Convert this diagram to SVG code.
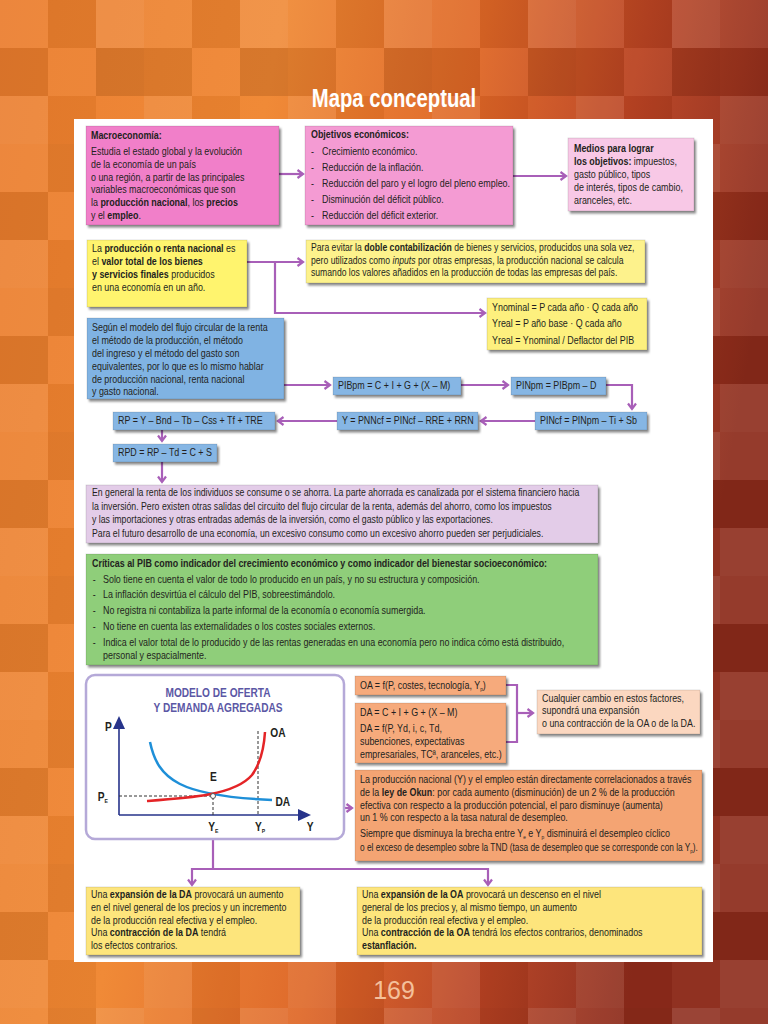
<svg xmlns="http://www.w3.org/2000/svg" width="768" height="1024" viewBox="0 0 768 1024">
<defs>
<linearGradient id="bg" x1="0" y1="0" x2="1" y2="0.25">
<stop offset="0" stop-color="#ea7c2c"/>
<stop offset="0.35" stop-color="#ef8631"/>
<stop offset="0.6" stop-color="#de6625"/>
<stop offset="0.8" stop-color="#b94322"/>
<stop offset="1" stop-color="#8c2a1a"/>
</linearGradient>
<pattern id="mosaic" width="144" height="144" patternUnits="userSpaceOnUse">
<rect x="0" y="0" width="48" height="48" fill="#fff" fill-opacity="0.08"/>
<rect x="48" y="0" width="48" height="48" fill="#000" fill-opacity="0.06"/>
<rect x="96" y="0" width="48" height="48" fill="#fff" fill-opacity="0.12"/>
<rect x="0" y="48" width="48" height="48" fill="#000" fill-opacity="0.08"/>
<rect x="48" y="48" width="48" height="48" fill="#fff" fill-opacity="0.05"/>
<rect x="96" y="48" width="48" height="48" fill="#000" fill-opacity="0.1"/>
<rect x="0" y="96" width="48" height="48" fill="#fff" fill-opacity="0.1"/>
<rect x="48" y="96" width="48" height="48" fill="#000" fill-opacity="0.04"/>
<rect x="96" y="96" width="48" height="48" fill="#fff" fill-opacity="0.03"/>
</pattern>
<filter id="sh" x="-5%" y="-10%" width="115%" height="140%">
<feDropShadow dx="2" dy="2.5" stdDeviation="1.2" flood-color="#000" flood-opacity="0.45"/>
</filter>
<marker id="ah" markerWidth="10" markerHeight="10" refX="7" refY="5" orient="auto" markerUnits="userSpaceOnUse">
<path d="M1.5,1 L7,5 L1.5,9" fill="none" stroke="#a85fb8" stroke-width="2.2"/>
</marker>
<style>
.t{font-family:"Liberation Sans",Arial,sans-serif;font-size:11px;fill:#231f20}
.b{font-weight:bold}
.box{stroke:#000;stroke-opacity:0.15;stroke-width:0.8;filter:url(#sh)}
.con{fill:none;stroke:#a85fb8;stroke-width:2.2}
.ax{fill:none;stroke:#27348b;stroke-width:1.6}
.lab{font-family:"Liberation Sans",Arial,sans-serif;font-size:12px;font-weight:bold;fill:#231f20}
</style>
</defs>

<rect x="0" y="0" width="768" height="1024" fill="url(#bg)"/>
<rect x="0" y="0" width="768" height="1024" fill="url(#mosaic)"/>
<rect x="74" y="119" width="639" height="843" fill="#ffffff"/>

<text transform="translate(394,0) scale(0.78,1)" x="0" y="107" text-anchor="middle" font-family="Liberation Sans, Arial, sans-serif" font-size="26" font-weight="bold" fill="#ffffff">Mapa conceptual</text>
<text x="394" y="999" text-anchor="middle" font-family="Liberation Sans, Arial, sans-serif" font-size="25" fill="#f4c09b">169</text>

<g id="connectors">
<path class="con" d="M279,174 H303" marker-end="url(#ah)"/>
<path class="con" d="M513,176 H566" marker-end="url(#ah)"/>
<path class="con" d="M247,262 H303" marker-end="url(#ah)"/>
<path class="con" d="M275,262 V313 H485" marker-end="url(#ah)"/>
<path class="con" d="M284,385 H330" marker-end="url(#ah)"/>
<path class="con" d="M461,385 H508" marker-end="url(#ah)"/>
<path class="con" d="M606,385 H632 V409" marker-end="url(#ah)"/>
<path class="con" d="M535,421 H481" marker-end="url(#ah)"/>
<path class="con" d="M337,421 H278" marker-end="url(#ah)"/>
<path class="con" d="M162,430 V441" marker-end="url(#ah)"/>
<path class="con" d="M162,462 V482" marker-end="url(#ah)"/>
<path class="con" d="M344,808 H352" marker-end="url(#ah)"/>
<path class="con" d="M506,685 H517 V742 H506"/>
<path class="con" d="M517,713 H533" marker-end="url(#ah)"/>
<path class="con" d="M213,839 V869"/>
<path class="con" d="M192,869 H488"/>
<path class="con" d="M192,868 V885" marker-end="url(#ah)"/>
<path class="con" d="M488,868 V885" marker-end="url(#ah)"/>
</g>

<g id="n-macro">
<rect class="box" x="86" y="126" width="193" height="99" fill="#f17fc9"/>
<g transform="translate(91,0) scale(0.81,1)" class="t">
<text x="0" y="139.5" class="t b">Macroeconomía:</text>
<text x="0" y="155.5" class="t">Estudia el estado global y la evolución</text>
<text x="0" y="168" class="t">de la economía de un país</text>
<text x="0" y="180.7" class="t">o una región, a partir de las principales</text>
<text x="0" y="193.3" class="t">variables macroeconómicas que son</text>
<text x="0" y="206" class="t">la <tspan class="b">producción nacional</tspan>, los <tspan class="b">precios</tspan></text>
<text x="0" y="218.6" class="t">y el <tspan class="b">empleo</tspan>.</text>
</g>
</g>

<g id="n-objetivos">
<rect class="box" x="305" y="126" width="208" height="99" fill="#f49bd3"/>
<g transform="translate(311,0) scale(0.81,1)">
<text x="0" y="138" class="t b">Objetivos económicos:</text>
<text x="0" y="155" class="t">-</text><text x="0" y="171" class="t">-</text><text x="0" y="187" class="t">-</text><text x="0" y="203" class="t">-</text><text x="0" y="219" class="t">-</text>
</g>
<g transform="translate(322,0) scale(0.81,1)">
<text x="0" y="155" class="t">Crecimiento económico.</text>
<text x="0" y="171" class="t">Reducción de la inflación.</text>
<text x="0" y="187" class="t">Reducción del paro y el logro del pleno empleo.</text>
<text x="0" y="203" class="t">Disminución del déficit público.</text>
<text x="0" y="219" class="t">Reducción del déficit exterior.</text>
</g>
</g>

<g id="n-medios">
<rect class="box" x="568" y="138" width="126" height="73" fill="#f8c8e6"/>
<g transform="translate(574,0) scale(0.81,1)">
<text x="0" y="152" class="t b">Medios para lograr</text>
<text x="0" y="165" class="t"><tspan class="b">los objetivos:</tspan> impuestos,</text>
<text x="0" y="178" class="t">gasto público, tipos</text>
<text x="0" y="191" class="t">de interés, tipos de cambio,</text>
<text x="0" y="204" class="t">aranceles, etc.</text>
</g>
</g>

<g id="n-produccion">
<rect class="box" x="87" y="240" width="160" height="67" fill="#fff46e"/>
<g transform="translate(92,0) scale(0.81,1)">
<text x="0" y="252.5" class="t">La <tspan class="b">producción o renta nacional</tspan> es</text>
<text x="0" y="265.5" class="t">el <tspan class="b">valor total de los bienes</tspan></text>
<text x="0" y="278.5" class="t"><tspan class="b">y servicios finales</tspan> producidos</text>
<text x="0" y="291.5" class="t">en una economía en un año.</text>
</g>
</g>

<g id="n-doble">
<rect class="box" x="306" y="240" width="339" height="43" fill="#fdf28c"/>
<g transform="translate(311,0) scale(0.785,1)">
<text x="0" y="251.5" class="t">Para evitar la <tspan class="b">doble contabilización</tspan> de bienes y servicios, producidos una sola vez,</text>
<text x="0" y="264" class="t">pero utilizados como <tspan font-style="italic">inputs</tspan> por otras empresas, la producción nacional se calcula</text>
<text x="0" y="276.5" class="t">sumando los valores añadidos en la producción de todas las empresas del país.</text>
</g>
</g>

<g id="n-ynominal">
<rect class="box" x="487" y="298" width="160" height="52" fill="#fdf07e"/>
<g transform="translate(492,0) scale(0.81,1)">
<text x="0" y="311.5" class="t">Ynominal = P cada año · Q cada año</text>
<text x="0" y="327.5" class="t">Yreal = P año base · Q cada año</text>
<text x="0" y="344" class="t">Yreal = Ynominal / Deflactor del PIB</text>
</g>
</g>

<g id="n-flujo">
<rect class="box" x="87" y="318" width="197" height="81" fill="#80b3e3"/>
<g transform="translate(92,0) scale(0.81,1)">
<text x="0" y="331" class="t">Según el modelo del flujo circular de la renta</text>
<text x="0" y="344" class="t">el método de la producción, el método</text>
<text x="0" y="357" class="t">del ingreso y el método del gasto son</text>
<text x="0" y="370" class="t">equivalentes, por lo que es lo mismo hablar</text>
<text x="0" y="383" class="t">de producción nacional, renta nacional</text>
<text x="0" y="395.5" class="t">y gasto nacional.</text>
</g>
</g>

<g id="n-pibpm">
<rect class="box" x="333" y="377" width="128" height="18" fill="#86b6e4"/>
<text transform="translate(338,0) scale(0.81,1)" x="0" y="389.5" class="t">PIBpm = C + I + G + (X – M)</text>
</g>
<g id="n-pinpm">
<rect class="box" x="511" y="377" width="95" height="18" fill="#86b6e4"/>
<text transform="translate(516,0) scale(0.81,1)" x="0" y="389.5" class="t">PINpm = PIBpm – D</text>
</g>
<g id="n-pincf">
<rect class="box" x="535" y="412" width="112" height="18" fill="#86b6e4"/>
<text transform="translate(540,0) scale(0.81,1)" x="0" y="424.5" class="t">PINcf = PINpm – Ti + Sb</text>
</g>
<g id="n-pnncf">
<rect class="box" x="337" y="412" width="141" height="18" fill="#86b6e4"/>
<text transform="translate(342,0) scale(0.81,1)" x="0" y="424.5" class="t">Y = PNNcf = PINcf – RRE + RRN</text>
</g>
<g id="n-rp">
<rect class="box" x="113" y="412" width="162" height="18" fill="#86b6e4"/>
<text transform="translate(118,0) scale(0.81,1)" x="0" y="424.5" class="t">RP = Y – Bnd – Tb – Css + Tf + TRE</text>
</g>
<g id="n-rpd">
<rect class="box" x="113" y="444" width="104" height="18" fill="#86b6e4"/>
<text transform="translate(118,0) scale(0.81,1)" x="0" y="456.5" class="t">RPD = RP – Td = C + S</text>
</g>

<g id="n-ahorro">
<rect class="box" x="86" y="485" width="512" height="58" fill="#e3cce8"/>
<g transform="translate(92,0) scale(0.795,1)">
<text x="0" y="496.5" class="t">En general la renta de los individuos se consume o se ahorra. La parte ahorrada es canalizada por el sistema financiero hacia</text>
<text x="0" y="510" class="t">la inversión. Pero existen otras salidas del circuito del flujo circular de la renta, además del ahorro, como los impuestos</text>
<text x="0" y="523" class="t">y las importaciones y otras entradas además de la inversión, como el gasto público y las exportaciones.</text>
<text x="0" y="537.5" class="t">Para el futuro desarrollo de una economía, un excesivo consumo como un excesivo ahorro pueden ser perjudiciales.</text>
</g>
</g>

<g id="n-criticas">
<rect class="box" x="86" y="554" width="512" height="111" fill="#8fce7a"/>
<g transform="translate(92,0) scale(0.81,1)">
<text x="0" y="567" class="t b">Críticas al PIB como indicador del crecimiento económico y como indicador del bienestar socioeconómico:</text>
<text x="1" y="583" class="t">-</text><text x="1" y="598.5" class="t">-</text><text x="1" y="614.5" class="t">-</text><text x="1" y="630" class="t">-</text><text x="1" y="646" class="t">-</text>
</g>
<g transform="translate(103,0) scale(0.81,1)">
<text x="0" y="583" class="t">Solo tiene en cuenta el valor de todo lo producido en un país, y no su estructura y composición.</text>
<text x="0" y="598.5" class="t">La inflación desvirtúa el cálculo del PIB, sobreestimándolo.</text>
<text x="0" y="614.5" class="t">No registra ni contabiliza la parte informal de la economía o economía sumergida.</text>
<text x="0" y="630" class="t">No tiene en cuenta las externalidades o los costes sociales externos.</text>
<text x="0" y="646" class="t">Indica el valor total de lo producido y de las rentas generadas en una economía pero no indica cómo está distribuido,</text>
<text x="0" y="659.5" class="t">personal y espacialmente.</text>
</g>
</g>

<g id="n-grafico">
<rect x="86" y="675" width="258" height="164" rx="9" fill="#ffffff" stroke="#b5a9d8" stroke-width="2.5"/>
<g transform="translate(218,0) scale(0.78,1)" font-family="Liberation Sans, Arial, sans-serif" font-size="13" font-weight="bold" fill="#5b57a5" text-anchor="middle">
<text x="0" y="697">MODELO DE OFERTA</text>
<text x="0" y="712">Y DEMANDA AGREGADAS</text>
</g>
<path class="ax" d="M119,815 V727 M119,815 H299"/>
<polygon points="119,716 113,729 125,729" fill="#27348b"/>
<polygon points="311,815 298,809 298,821" fill="#27348b"/>
<path d="M119,796 H213 V815 M258,731 V815" fill="none" stroke="#333" stroke-width="1" stroke-dasharray="3,2"/>
<path d="M150,742 C158,780 180,796 272,800" fill="none" stroke="#1e8fd8" stroke-width="2.5"/>
<path d="M147,801 C190,798 235,795 252,775 C260,764 264,748 265,732" fill="none" stroke="#e42427" stroke-width="2.5"/>
<circle cx="213" cy="796" r="2.5" fill="#ffffff" stroke="#555" stroke-width="1"/>
<g transform="scale(0.85,1)">
<text class="lab" x="123.5" y="731">P</text>
<text class="lab" x="115" y="801">P<tspan font-size="6" dy="2">E</tspan></text>
<text class="lab" x="247" y="781">E</text>
<text class="lab" x="318" y="737">OA</text>
<text class="lab" x="324" y="806">DA</text>
<text class="lab" x="245" y="831">Y<tspan font-size="6" dy="2">E</tspan></text>
<text class="lab" x="300" y="831">Y<tspan font-size="6" dy="2">P</tspan></text>
<text class="lab" x="361" y="831">Y</text>
</g>
</g>

<g id="n-oa">
<rect class="box" x="355" y="676" width="151" height="19" fill="#f6aa7c"/>
<text transform="translate(360,0) scale(0.81,1)" x="0" y="689" class="t">OA = f(P, costes, tecnología, Y<tspan font-size="6" dy="2">p</tspan><tspan dy="-2">)</tspan></text>
</g>
<g id="n-da">
<rect class="box" x="355" y="703" width="151" height="60" fill="#f6aa7c"/>
<g transform="translate(360,0) scale(0.81,1)">
<text x="0" y="716" class="t">DA = C + I + G + (X – M)</text>
<text x="0" y="732" class="t">DA = f(P, Yd, i, c, Td,</text>
<text x="0" y="745" class="t">subenciones, expectativas</text>
<text x="0" y="758" class="t">empresariales, TCª, aranceles, etc.)</text>
</g>
</g>
<g id="n-cambio">
<rect class="box" x="537" y="690" width="163" height="44" fill="#fbd7c0"/>
<g transform="translate(542,0) scale(0.81,1)">
<text x="0" y="702" class="t">Cualquier cambio en estos factores,</text>
<text x="0" y="714.5" class="t">supondrá una expansión</text>
<text x="0" y="727" class="t">o una contracción de la OA o de la DA.</text>
</g>
</g>
<g id="n-okun">
<rect class="box" x="355" y="770" width="347" height="91" fill="#f4a473"/>
<g transform="translate(360,0) scale(0.81,1)">
<text x="0" y="783" class="t">La producción nacional (Y) y el empleo están directamente correlacionados a través</text>
<text x="0" y="796.5" class="t">de la <tspan class="b">ley de Okun</tspan>: por cada aumento (disminución) de un 2 % de la producción</text>
<text x="0" y="809" class="t">efectiva con respecto a la producción potencial, el paro disminuye (aumenta)</text>
<text x="0" y="821.5" class="t">un 1 % con respecto a la tasa natural de desempleo.</text>
<text x="0" y="837" class="t">Siempre que disminuya la brecha entre Y<tspan font-size="6" dy="2">e</tspan><tspan dy="-2"> e Y</tspan><tspan font-size="6" dy="2">p</tspan><tspan dy="-2"> disminuirá el desempleo cíclico</tspan></text>
</g>
<text transform="translate(360,0) scale(0.755,1)" x="0" y="851" class="t">o el exceso de desempleo sobre la TND (tasa de desempleo que se corresponde con la Y<tspan font-size="6" dy="2">p</tspan><tspan dy="-2">).</tspan></text>
</g>

<g id="n-expda">
<rect class="box" x="86" y="887" width="214" height="68" fill="#fde57c"/>
<g transform="translate(91,0) scale(0.81,1)">
<text x="0" y="898.5" class="t">Una <tspan class="b">expansión de la DA</tspan> provocará un aumento</text>
<text x="0" y="911.5" class="t">en el nivel general de los precios y un incremento</text>
<text x="0" y="924" class="t">de la producción real efectiva y el empleo.</text>
<text x="0" y="936.5" class="t">Una <tspan class="b">contracción de la DA</tspan> tendrá</text>
<text x="0" y="949" class="t">los efectos contrarios.</text>
</g>
</g>
<g id="n-expoa">
<rect class="box" x="357" y="887" width="345" height="68" fill="#fde57c"/>
<g transform="translate(362,0) scale(0.81,1)">
<text x="0" y="898.5" class="t">Una <tspan class="b">expansión de la OA</tspan> provocará un descenso en el nivel</text>
<text x="0" y="911.5" class="t">general de los precios y, al mismo tiempo, un aumento</text>
<text x="0" y="924" class="t">de la producción real efectiva y el empleo.</text>
<text x="0" y="936.5" class="t">Una <tspan class="b">contracción de la OA</tspan> tendrá los efectos contrarios, denominados</text>
<text x="0" y="949" class="t b">estanflación.</text>
</g>
</g>
</svg>
